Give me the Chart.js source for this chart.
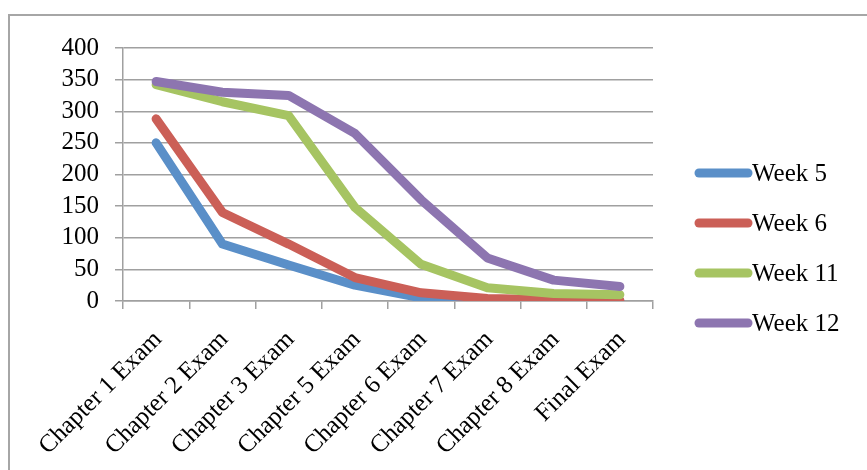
<!DOCTYPE html>
<html>
<head>
<meta charset="utf-8">
<script src="https://cdn.jsdelivr.net/npm/chart.js@4"></script>
<style>
  html, body { margin: 0; padding: 0; background: #fff; }
  #wrap { position: relative; width: 867px; height: 470px; }
</style>
</head>
<body>
<div id="wrap"><canvas id="examChart" width="867" height="470"></canvas></div>
<script>
// data
const categories = [
  "Chapter 1 Exam", "Chapter 2 Exam", "Chapter 3 Exam", "Chapter 5 Exam",
  "Chapter 6 Exam", "Chapter 7 Exam", "Chapter 8 Exam", "Final Exam"
];
const seriesNames = ["Week 5", "Week 6", "Week 11", "Week 12"];
const week5  = [250, 90, 57, 25, 5, 1, 0, 0];
const week6  = [288, 140, 90, 37, 13, 4, 2, 1];
const week11 = [342, 315, 293, 148, 58, 21, 12, 10];
const week12 = [347, 330, 325, 265, 160, 68, 33, 23];
const yMax = 400;
const yStep = 50;

const colors = ["#5A8FC8", "#CB5F57", "#A6C462", "#8D75B0"];
const seriesValues = [week5, week6, week11, week12];
const FONT = "'Liberation Serif', 'DejaVu Serif', serif";

// outer frame (top + left edge only visible)
const framePlugin = {
  id: "frame",
  beforeDraw(chart) {
    const ctx = chart.ctx;
    ctx.save();
    ctx.strokeStyle = "#a6a6a6";
    ctx.lineWidth = 2;
    ctx.beginPath();
    ctx.moveTo(9, 470);
    ctx.lineTo(9, 15);
    ctx.lineTo(867, 15);
    ctx.stroke();
    ctx.restore();
  }
};

// legend to the right, line swatch + text
const legendPlugin = {
  id: "sideLegend",
  afterDraw(chart) {
    const ctx = chart.ctx;
    ctx.save();
    ctx.font = "25px " + FONT;
    ctx.textBaseline = "middle";
    chart.data.datasets.forEach((ds, i) => {
      const y = 173 + i * 50;
      ctx.strokeStyle = ds.borderColor;
      ctx.lineWidth = 9;
      ctx.lineCap = "round";
      ctx.beginPath();
      ctx.moveTo(699, y);
      ctx.lineTo(748, y);
      ctx.stroke();
      ctx.fillStyle = "#000";
      ctx.fillText(ds.label, 752, y + 1);
    });
    ctx.restore();
  }
};

const chart = new Chart(document.getElementById("examChart"), {
  type: "line",
  data: {
    labels: categories,
    datasets: seriesNames.map((name, i) => ({
      label: name,
      data: seriesValues[i],
      borderColor: colors[i],
      backgroundColor: colors[i],
      borderWidth: 9,
      borderCapStyle: "round",
      borderJoinStyle: "round",
      pointRadius: 0,
      tension: 0,
      order: seriesNames.length - i
    }))
  },
  options: {
    responsive: false,
    animation: false,
    layout: { padding: { top: 48, right: 214, left: 20, bottom: 0 } },
    plugins: {
      legend: { display: false },
      tooltip: { enabled: false }
    },
    scales: {
      x: {
        offset: true,
        afterFit(axis) {
          axis.height = 169;
        },
        grid: {
          offset: true,
          drawOnChartArea: false,
          tickLength: 8,
          color: "#a0a0a0",
          lineWidth: 1.5
        },
        border: { color: "#a0a0a0", width: 1.5 },
        ticks: {
          minRotation: 45,
          maxRotation: 45,
          autoSkip: false,
          color: "#000",
          font: { family: FONT, size: 25 },
          padding: 16,
          labelOffset: 2
        }
      },
      y: {
        min: 0,
        max: yMax,
        afterFit(axis) {
          axis.width = 103;
        },
        grid: {
          color: "#a0a0a0",
          lineWidth: 1.5,
          tickLength: 8
        },
        border: { color: "#a0a0a0", width: 1.5 },
        ticks: {
          stepSize: yStep,
          autoSkip: false,
          color: "#000",
          font: { family: FONT, size: 25 },
          padding: 16
        }
      }
    }
  },
  plugins: [framePlugin, legendPlugin]
});
</script>
</body>
</html>
